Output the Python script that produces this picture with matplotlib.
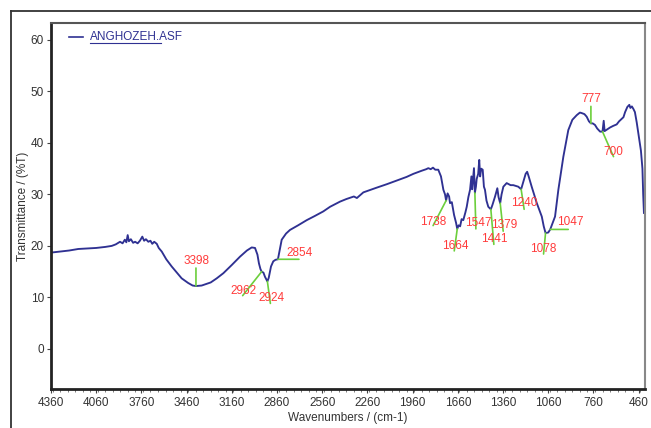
import matplotlib
matplotlib.use("Agg")
import matplotlib.pyplot as plt
from matplotlib.lines import Line2D
from matplotlib.ticker import MultipleLocator

# FTIR spectrum, wavenumber (cm-1) vs transmittance (%T)
wavenumber = [
    4360, 4300, 4240, 4179, 4120, 4060, 4000, 3957, 3930, 3902, 3885, 3870,
    3860, 3851, 3843, 3830, 3815, 3802, 3785, 3770, 3754, 3742, 3730, 3714,
    3700, 3688, 3675, 3658, 3645, 3625, 3595, 3559, 3525, 3493, 3450, 3420,
    3398, 3360, 3300, 3260, 3216, 3160, 3106, 3060, 3028, 3006, 2990, 2980,
    2970, 2962, 2950, 2940, 2924, 2915, 2900, 2885, 2870, 2854, 2840, 2829,
    2800, 2774, 2720, 2663, 2610, 2553, 2508, 2442, 2400, 2350, 2330, 2287,
    2200, 2130, 2066, 2000, 1955, 1900, 1870, 1856, 1840, 1825, 1810, 1790,
    1772, 1756, 1745, 1738, 1728, 1718, 1712, 1700, 1685, 1672, 1664, 1655,
    1645, 1635, 1624, 1610, 1601, 1590, 1579, 1570, 1565, 1553, 1547, 1540,
    1535, 1525, 1518, 1512, 1505, 1495, 1487, 1480, 1470, 1458, 1441, 1430,
    1413, 1398, 1390, 1379, 1370, 1358, 1336, 1310, 1292, 1270, 1259, 1240,
    1225, 1210, 1200, 1190, 1170, 1136, 1103, 1090, 1078, 1060, 1047, 1030,
    1015, 993, 960, 940, 927, 900, 871, 850, 838, 820, 805, 790,
    777, 765, 750, 735, 716, 700, 692, 686, 670, 650, 630, 606,
    590, 575, 561, 550, 535, 522, 515, 505, 495, 485, 473, 460,
    445, 435, 430, 425,
]
transmittance = [
    18.7, 18.9, 19.1, 19.4, 19.5, 19.6, 19.8, 20.0, 20.3, 20.8, 20.5, 21.2,
    20.7, 22.1, 20.9, 21.3, 20.6, 20.8, 20.5, 21.0, 21.8, 21.0, 21.3, 20.8,
    21.0, 20.4, 20.8, 20.4, 19.6, 18.9, 17.4, 16.0, 14.8, 13.7, 12.8, 12.3,
    12.2, 12.3, 12.9, 13.7, 14.7, 16.3, 17.9, 19.1, 19.7, 19.6, 18.3, 16.6,
    15.5, 15.0, 14.8, 14.0, 13.1, 13.8, 16.0, 17.0, 17.3, 17.4, 19.5, 21.2,
    22.4, 23.1, 24.0, 25.0, 25.8, 26.7, 27.6, 28.6, 29.1, 29.6, 29.3, 30.4,
    31.3, 32.0, 32.7, 33.4, 34.0, 34.6, 34.9, 35.1, 34.9, 35.2, 34.8, 34.8,
    33.5, 30.9, 30.0, 28.8, 30.2, 29.6, 28.3, 28.5, 26.0, 24.5, 23.3, 24.0,
    23.8, 25.2, 25.0, 26.5, 27.6, 29.5, 30.9, 33.5, 31.0, 35.1, 30.3, 31.5,
    33.0, 34.0, 36.7, 33.5, 35.0, 34.8, 31.5, 30.9, 28.8, 27.6, 27.1, 28.0,
    29.6, 31.2, 29.5, 28.3, 30.0, 31.5, 32.2, 31.8, 31.8, 31.6, 31.5, 31.0,
    32.5, 34.0, 34.4, 33.5, 31.5, 28.3, 25.7, 23.8, 22.5, 22.6, 23.2, 24.5,
    25.7, 30.9, 37.3, 40.5, 42.5, 44.5, 45.4, 45.9, 45.8, 45.6, 45.1, 44.2,
    43.8, 43.8, 43.5, 42.8, 42.2, 42.2, 44.3, 42.3, 42.6, 43.0, 43.3, 43.6,
    44.2, 44.6, 45.0, 46.0, 47.0, 47.4, 46.8, 47.1, 46.6, 46.0, 44.0, 41.5,
    38.5, 35.0, 30.0, 26.4,
]

# Peak picks: wavenumber, %T at the pick, leader end and label offsets (pixels)
peak_labels = ["3398", "2962", "2924", "2854", "1738", "1664", "1547",
               "1441", "1379", "1240", "1078", "1047", "777", "700"]
peak_wn = [3398, 2962, 2924, 2854, 1738, 1664, 1547,
           1441, 1379, 1240, 1078, 1047, 777, 700]
peak_t = [12.2, 15.0, 13.1, 17.4, 28.8, 23.3, 30.3,
          27.1, 28.3, 31.0, 22.5, 23.2, 43.8, 42.2]
leader_end = [(0, 18), (-19, -24), (3, -22), (21, 0), (-13, -25), (-3, -22),
              (1, -36), (3, -35), (3, -28), (3, -20), (-2, -21), (18, 0),
              (0, 17), (11, -25)]
label_pos = [(1, 25), (-18, -19), (4, -17), (22, 6), (-13, -21), (-2, -17),
             (3, -30), (3, -30), (4, -22), (3, -14), (-2, -16), (20, 7),
             (0, 24), (11, -20)]

x_ticks = [4360, 4060, 3760, 3460, 3160, 2860, 2560, 2260, 1960, 1660,
           1360, 1060, 760, 460]
y_ticks = [0, 10, 20, 30, 40, 50, 60]

LINE = "#2f3192"
GREEN = "#6ccf3c"
RED = "#ff3b3b"
FONT = ["Liberation Sans", "DejaVu Sans"]

fig = plt.figure(figsize=(6.51, 4.28), dpi=100)
ax = fig.add_axes([51 / 651, 39 / 428, 594 / 651, 366 / 428])

ax.plot(wavenumber, transmittance, color=LINE, lw=1.35)
ax.set_xlim(4360, 418)
ax.set_ylim(-7.8, 63.3)

for lab, wn, t, (ex, ey), (tx, ty) in zip(peak_labels, peak_wn, peak_t,
                                           leader_end, label_pos):
    ax.annotate("", xy=(wn, t), xytext=(ex, ey), textcoords="offset pixels",
                arrowprops=dict(arrowstyle="-", color=GREEN, lw=1.2,
                                shrinkA=0, shrinkB=0))
    ax.annotate(lab, xy=(wn, t), xytext=(tx, ty), textcoords="offset pixels",
                ha="center", va="center", color=RED, fontsize=8.5,
                family=FONT)

ax.set_xticks(x_ticks)
ax.set_xticklabels([str(v) for v in x_ticks])
ax.xaxis.set_minor_locator(MultipleLocator(50))
ax.set_yticks(y_ticks)
ax.tick_params(axis="both", which="major", length=3, width=0.8,
               colors="#444444", labelcolor="#333333", labelsize=8.5, pad=3)
ax.tick_params(axis="y", which="major", pad=2)
ax.tick_params(axis="x", which="minor", length=2, width=0.6, colors="#666666")
for lbl in ax.get_xticklabels() + ax.get_yticklabels():
    lbl.set_family(FONT)

ax.set_xlabel("Wavenumbers / (cm-1)", fontsize=8.5, family=FONT,
              color="#333333", labelpad=2)
ax.set_ylabel("Transmittance / (%T)", fontsize=8.5, family=FONT,
              color="#333333", labelpad=1)

ax.spines["left"].set_linewidth(2.0)
ax.spines["left"].set_color("#222222")
ax.spines["bottom"].set_linewidth(2.0)
ax.spines["bottom"].set_color("#222222")
ax.spines["top"].set_linewidth(1.5)
ax.spines["top"].set_color("#555555")
ax.spines["right"].set_linewidth(1.5)
ax.spines["right"].set_color("#888888")

# legend entry: short line sample and underlined file name
ax.plot([0.030, 0.054], [0.962, 0.962], transform=ax.transAxes,
        color=LINE, lw=1.2)
ax.text(0.066, 0.962, "ANGHOZEH.ASF", transform=ax.transAxes,
        ha="left", va="center", color=LINE, fontsize=8.5, family=FONT)
ax.plot([0.066, 0.185], [0.946, 0.946], transform=ax.transAxes,
        color=LINE, lw=0.8)

# outer frame
fig.add_artist(Line2D([11 / 651, 1.0], [1 - 11 / 428, 1 - 11 / 428],
                      transform=fig.transFigure, color="#333333", lw=1.3))
fig.add_artist(Line2D([11 / 651, 11 / 651], [0.0, 1 - 11 / 428],
                      transform=fig.transFigure, color="#333333", lw=1.3))

fig.savefig("out.png", dpi=100)
